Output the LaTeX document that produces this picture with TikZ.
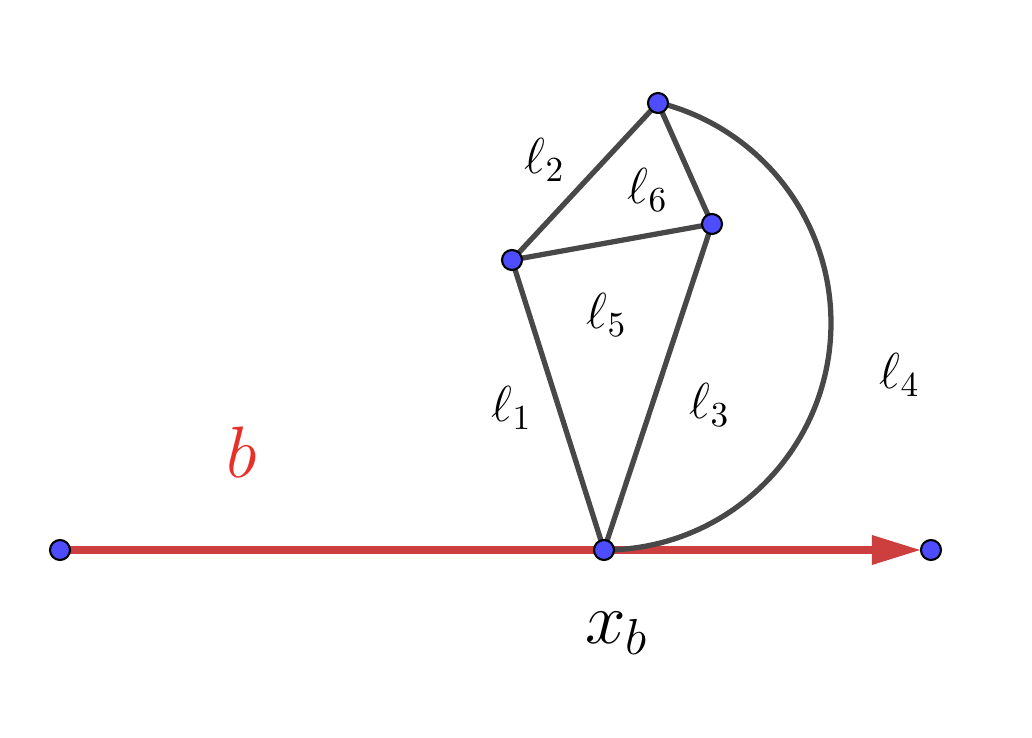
\documentclass[tikz,border=0pt]{standalone}
\usepackage{amsmath}
\usetikzlibrary{arrows.meta, backgrounds}
\definecolor{ptblue}{RGB}{77,77,255}
\definecolor{edgegray}{RGB}{72,72,72}
\definecolor{rayred}{RGB}{196,28,28}
\definecolor{labred}{RGB}{232,48,40}
\tikzset{
  pt/.style={circle, draw=black, line width=0.6pt, fill=ptblue, inner sep=0pt, minimum size=0.2cm},
  edg/.style={draw=edgegray, line width=1.5pt},
  ray/.style={draw=rayred, opacity=0.85, line width=2.2pt},
  lab/.style={font=\Large}
}

\begin{document}
\begin{tikzpicture}
\useasboundingbox (0,0) rectangle (10.32,7.38);

\node[pt] (L) at (0.60,1.88) {};
\node[pt] (X) at (6.04,1.88) {};
\node[pt] (R) at (9.31,1.88) {};
\node[pt] (A) at (5.12,4.78) {};
\node[pt] (B) at (6.58,6.35) {};
\node[pt] (C) at (7.12,5.14) {};

\begin{scope}[on background layer]
\draw[ray, -{Triangle[length=0.48cm, width=0.3cm, line width=0pt, fill=rayred]}, shorten >=0.11cm] (L.center) -- (R.center);
\draw[edg] (A.center) -- (B.center) -- (C.center) -- (A.center);
\draw[edg] (A.center) -- (X.center) -- (C.center);
\draw[edg] (X.center) arc[start angle=-90, end angle=76.2, radius=2.27];
\end{scope}

\node[lab] (l2) at (5.45,5.78) {$\ell_2$};
\node[lab] (l6) at (6.48,5.48) {$\ell_6$};
\node[lab] (l5) at (6.07,4.23) {$\ell_5$};
\node[lab] (l1) at (5.12,3.30) {$\ell_1$};
\node[lab] (l3) at (7.10,3.33) {$\ell_3$};
\node[lab] (l4) at (9.00,3.63) {$\ell_4$};
\node[font=\huge, text=labred] (b) at (2.42,2.86) {$b$};
\node[font=\huge] (xb) at (6.17,1.05) {$x_b$};
\end{tikzpicture}
\end{document}
